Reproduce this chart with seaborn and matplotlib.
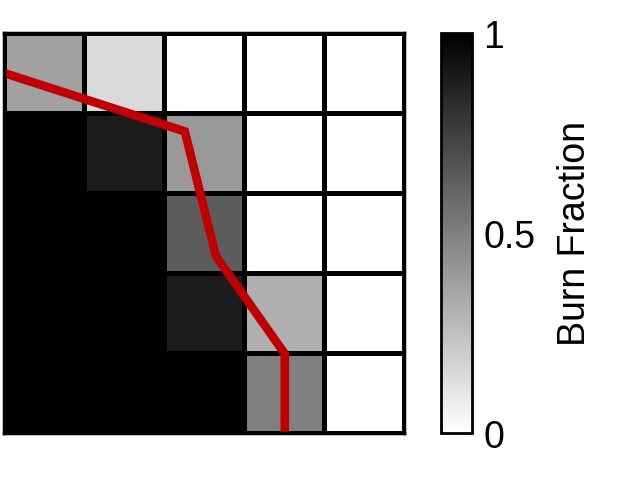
import numpy as np
import matplotlib
matplotlib.use('Agg')
import matplotlib.pyplot as plt
import seaborn as sns

# Burn fraction for each cell of the 5x5 grid (row 0 at top)
burn = [
    [0.37, 0.15, 0.0, 0.0, 0.0],
    [1.0, 0.89, 0.40, 0.0, 0.0],
    [1.0, 1.0, 0.64, 0.0, 0.0],
    [1.0, 1.0, 0.89, 0.31, 0.0],
    [1.0, 1.0, 1.0, 0.50, 0.0],
]

# Fire front line (grid coordinates, y downward)
front_x = [0.0, 2.26, 2.65, 3.51, 3.51]
front_y = [0.5, 1.23, 2.79, 4.01, 5.0]

cbar_ticks = [0, 0.5, 1]
cbar_labels = ['0', '0.5', '1']

sns.set_style('white')
plt.rcParams['font.family'] = ['Liberation Sans', 'DejaVu Sans']
plt.rcParams['text.color'] = 'black'
plt.rcParams['ytick.color'] = 'black'
plt.rcParams['axes.labelcolor'] = 'black'

fig = plt.figure(figsize=(6.22, 4.81), dpi=100)
ax = fig.add_axes([4 / 622, 47 / 481, 400 / 622, 400 / 481])
cax = fig.add_axes([441 / 622, 47 / 481, 31 / 622, 400 / 481])

sns.heatmap(np.array(burn), ax=ax, cbar_ax=cax, cmap='gray_r', vmin=0, vmax=1,
            linewidths=2.5, linecolor='black', square=False,
            xticklabels=False, yticklabels=False)

ax.plot(front_x, front_y, color='#c00000', linewidth=6.2, solid_capstyle='butt',
        solid_joinstyle='miter')

for side in ax.spines.values():
    side.set_visible(True)
    side.set_color('black')
    side.set_linewidth(2.5)

cbar = ax.collections[0].colorbar
cbar.set_ticks(cbar_ticks)
cbar.set_ticklabels(cbar_labels)
cbar.ax.tick_params(length=0, labelsize=27, pad=8, labelcolor='black')
cbar.outline.set_visible(True)
cbar.outline.set_edgecolor('black')
cbar.outline.set_linewidth(2)
cbar.set_label('Burn Fraction', fontsize=27, labelpad=16, color='black')

fig.savefig('out.png', dpi=100)
